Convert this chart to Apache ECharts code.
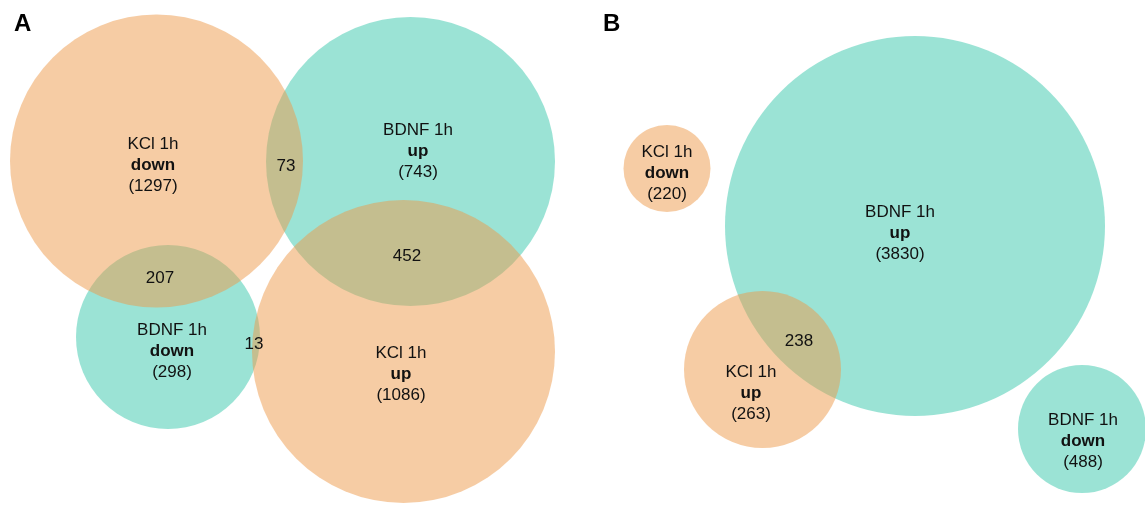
<!DOCTYPE html>
<html>
<head>
<meta charset="utf-8">
<script src="https://cdn.jsdelivr.net/npm/echarts@6/dist/echarts.min.js"></script>
<style>
  html, body { margin: 0; padding: 0; background: #ffffff; }
  #chart { width: 1145px; height: 506px; }
</style>
</head>
<body>
<div id="chart"></div>
<script>
// ---- Data (layout units on a 1145 x 506 plane) ----
const panelLetters = ['A', 'B'];

// Set circles: name, direction, gene count, group (KCl / BDNF)
const setNames      = ['KCl 1h', 'BDNF 1h', 'KCl 1h', 'BDNF 1h', 'KCl 1h', 'BDNF 1h', 'KCl 1h', 'BDNF 1h'];
const setDirections = ['down', 'up', 'up', 'down', 'down', 'up', 'up', 'down'];
const setCounts     = [1297, 743, 1086, 298, 220, 3830, 263, 488];
const setGroups     = ['KCl', 'BDNF', 'KCl', 'BDNF', 'KCl', 'BDNF', 'KCl', 'BDNF'];
const circleX       = [156.5, 410.5, 403.5, 168, 667, 915, 762.5, 1082];
const circleY       = [161, 161.5, 351.5, 337, 168.5, 226, 369.5, 429];
const circleR       = [146.5, 144.5, 151.5, 92, 43.5, 190, 78.5, 64];
const setLabelX     = [153, 418, 401, 172, 667, 900, 751, 1083];
const setLabelY     = [165, 151, 374, 351, 173, 233, 393, 441];

// Overlap counts
const overlapCounts = [73, 452, 207, 13, 238];
const overlapX      = [286, 407, 160, 254, 799];
const overlapY      = [166, 256, 278, 344, 341];

const groupColors = { BDNF: '#37C7AB', KCl: '#ED9949' };

// ---- Build series data ----
function circleData(group) {
  const out = [];
  for (let i = 0; i < setCounts.length; i++) {
    if (setGroups[i] === group) out.push([circleX[i], circleY[i], circleR[i]]);
  }
  return out;
}
function renderCircle(params, api) {
  const c = api.coord([api.value(0), api.value(1)]);
  const r = api.size([api.value(2), 0])[0];
  return {
    type: 'circle',
    shape: { cx: c[0], cy: c[1], r: r },
    style: { fill: api.visual('color'), opacity: 0.5 }
  };
}

const font = '"Liberation Sans", Arial, sans-serif';
const txt = '#111111';
const rich = {
  n: { fontFamily: font, fontSize: 17, fill: txt, lineHeight: 21 },
  b: { fontFamily: font, fontSize: 17, fontWeight: 'bold', fill: txt, lineHeight: 21 }
};

const setLabelData = setCounts.map((n, i) => [setLabelX[i], setLabelY[i], i]);
const overlapData = overlapCounts.map((n, i) => [overlapX[i], overlapY[i], i]);

function makeTextRenderer(kind) {
  return function (params, api) {
    const c = api.coord([api.value(0), api.value(1)]);
    const i = api.value(2);
    const text = kind === 'set'
      ? '{n|' + setNames[i] + '}\n{b|' + setDirections[i] + '}\n{n|(' + setCounts[i] + ')}'
      : '{n|' + overlapCounts[i] + '}';
    return {
      type: 'text',
      x: c[0], y: c[1],
      style: {
        text: text, rich: rich, align: 'center', verticalAlign: 'middle',
        fill: txt, fontFamily: font, fontSize: 17
      }
    };
  };
}

const chart = echarts.init(document.getElementById('chart'), null, { renderer: 'canvas' });
chart.setOption({
  animation: false,
  backgroundColor: '#ffffff',
  title: [
    { text: panelLetters[0], left: 9, top: 7, textStyle: { fontFamily: font, fontSize: 24, fontWeight: 'bold', color: '#000' } },
    { text: panelLetters[1], left: 598, top: 7, textStyle: { fontFamily: font, fontSize: 24, fontWeight: 'bold', color: '#000' } }
  ],
  grid: { left: 0, right: 0, top: 0, bottom: 0 },
  xAxis: { type: 'value', min: 0, max: 1145, show: false },
  yAxis: { type: 'value', min: 0, max: 506, inverse: true, show: false },
  series: [
    { type: 'custom', name: 'BDNF', renderItem: renderCircle, data: circleData('BDNF'),
      itemStyle: { color: groupColors.BDNF }, z: 1, silent: true },
    { type: 'custom', name: 'KCl', renderItem: renderCircle, data: circleData('KCl'),
      itemStyle: { color: groupColors.KCl }, z: 2, silent: true },
    { type: 'custom', name: 'set labels', renderItem: makeTextRenderer('set'), data: setLabelData, z: 5, silent: true },
    { type: 'custom', name: 'overlap labels', renderItem: makeTextRenderer('overlap'), data: overlapData, z: 5, silent: true }
  ]
});
</script>
</body>
</html>
